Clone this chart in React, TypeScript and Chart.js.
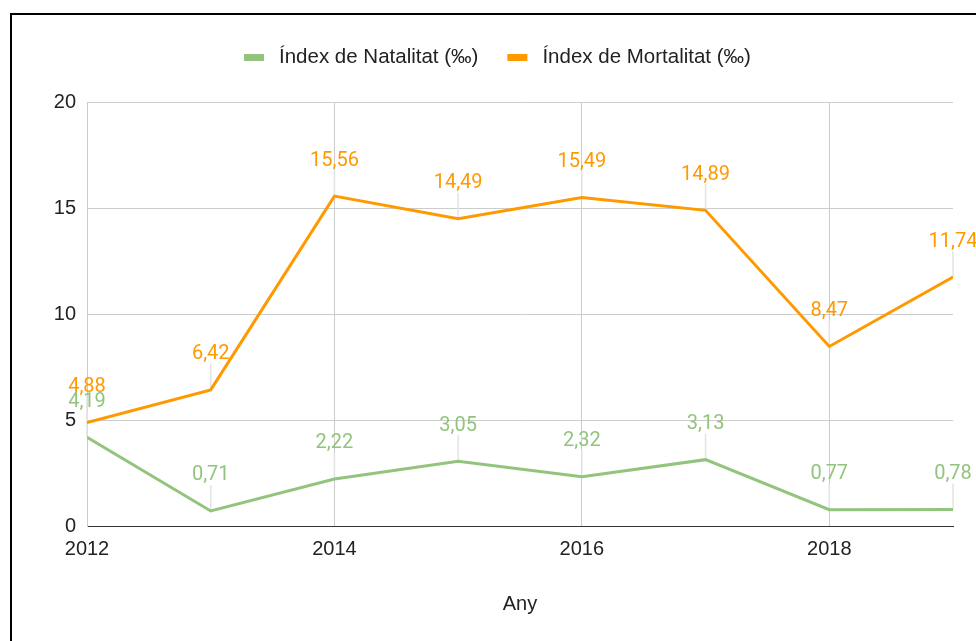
import React, { useEffect, useRef } from "react";
import { Chart, registerables } from "chart.js";

Chart.register(...registerables);

const years = [2012, 2013, 2014, 2015, 2016, 2017, 2018, 2019];
const natalitat = [4.19, 0.71, 2.22, 3.05, 2.32, 3.13, 0.77, 0.78];
const mortalitat = [4.88, 6.42, 15.56, 14.49, 15.49, 14.89, 8.47, 11.74];
const seriesNames = ["Índex de Natalitat (‰)", "Índex de Mortalitat (‰)"];
const seriesColors = ["#93c47d", "#ff9900"];
const xAxisTitle = "Any";
const yMin = 0;
const yMax = 20;
const yStep = 5;
const xStep = 2;

const AXIS_FONT = "'Liberation Sans', Arial, sans-serif";
const LABEL_FONT = "Roboto, 'Liberation Sans', sans-serif";

const fmt = (v: number) => v.toFixed(2).replace(".", ",");

const labelPlugin = {
  id: "pointLabels",
  beforeDatasetsDraw(chart: any) {
    const ctx = chart.ctx;
    ctx.save();
    ctx.strokeStyle = "#e3e3e3";
    ctx.lineWidth = 1.5;
    chart.data.datasets.forEach((ds: any, i: number) => {
      const meta = chart.getDatasetMeta(i);
      meta.data.forEach((el: any) => {
        ctx.beginPath();
        ctx.moveTo(el.x, el.y);
        ctx.lineTo(el.x, el.y - 26);
        ctx.stroke();
      });
    });
    ctx.restore();
  },
  afterDatasetsDraw(chart: any) {
    const ctx = chart.ctx;
    ctx.save();
    ctx.font = `20px ${LABEL_FONT}`;
    ctx.textAlign = "center";
    ctx.textBaseline = "middle";
    chart.data.datasets.forEach((ds: any, i: number) => {
      const meta = chart.getDatasetMeta(i);
      ctx.fillStyle = ds.borderColor;
      meta.data.forEach((el: any, j: number) => {
        ctx.fillText(fmt(ds.data[j].y), el.x, el.y - 35.5);
      });
    });
    ctx.restore();
  },
  afterDraw(chart: any) {
    const ctx = chart.ctx;
    ctx.save();
    ctx.font = `20.5px ${AXIS_FONT}`;
    ctx.textBaseline = "middle";
    ctx.textAlign = "left";
    let x = 244;
    const yMid = 57.5;
    chart.data.datasets.forEach((ds: any) => {
      ctx.fillStyle = ds.borderColor;
      ctx.fillRect(x, yMid - 3.5, 20, 7);
      x += 35;
      ctx.fillStyle = "#222222";
      ctx.fillText(ds.label, x, yMid);
      x += ctx.measureText(ds.label).width + 29;
    });
    ctx.restore();
  },
};

export default function App() {
  const ref = useRef<HTMLCanvasElement | null>(null);

  useEffect(() => {
    if (!ref.current) return;
    const chart = new Chart(ref.current, {
      type: "line",
      data: {
        datasets: [
          {
            label: seriesNames[0],
            data: years.map((y, i) => ({ x: y, y: natalitat[i] })),
            borderColor: seriesColors[0],
            backgroundColor: seriesColors[0],
            borderWidth: 3,
            pointRadius: 0,
            tension: 0,
          },
          {
            label: seriesNames[1],
            data: years.map((y, i) => ({ x: y, y: mortalitat[i] })),
            borderColor: seriesColors[1],
            backgroundColor: seriesColors[1],
            borderWidth: 3,
            pointRadius: 0,
            tension: 0,
          },
        ],
      },
      options: {
        responsive: false,
        animation: false,
        devicePixelRatio: 1,
        layout: { padding: { left: 0, right: 23, top: 102, bottom: 0 } },
        plugins: {
          legend: { display: false },
          tooltip: { enabled: false },
        },
        scales: {
          x: {
            type: "linear",
            min: years[0],
            max: years[years.length - 1],
            afterFit: (s: any) => {
              s.height = 115;
            },
            ticks: {
              stepSize: xStep,
              includeBounds: false,
              padding: 11,
              color: "#222222",
              font: { family: AXIS_FONT, size: 20 },
              callback: (v: any) => String(v),
            },
            grid: { color: "#cccccc", lineWidth: 1, drawTicks: false },
            border: { display: true, color: "#333333", width: 1 },
            title: {
              display: true,
              text: xAxisTitle,
              color: "#222222",
              font: { family: AXIS_FONT, size: 20 },
              padding: { top: 0, bottom: 25 },
            },
          },
          y: {
            min: yMin,
            max: yMax,
            afterFit: (s: any) => {
              s.width = 87;
            },
            ticks: {
              stepSize: yStep,
              padding: 11,
              color: "#222222",
              font: { family: AXIS_FONT, size: 20 },
            },
            grid: {
              color: (c: any) => (c.tick && c.tick.value === 0 ? "#333333" : "#cccccc"),
              lineWidth: 1,
              drawTicks: false,
            },
            border: { display: true, color: "#cccccc" },
          },
        },
      },
      plugins: [labelPlugin],
    });
    return () => chart.destroy();
  }, []);

  return (
    <div style={{ position: "fixed", left: 0, top: 0, width: 976, height: 641, overflow: "hidden", background: "#fff" }}>
      <canvas ref={ref} width={976} height={641} style={{ position: "absolute", left: 0, top: 0, width: 976, height: 641 }} />
      <div
        style={{
          position: "absolute",
          left: 10,
          top: 13,
          width: 1100,
          height: 800,
          border: "2px solid #000",
          pointerEvents: "none",
        }}
      />
    </div>
  );
}
